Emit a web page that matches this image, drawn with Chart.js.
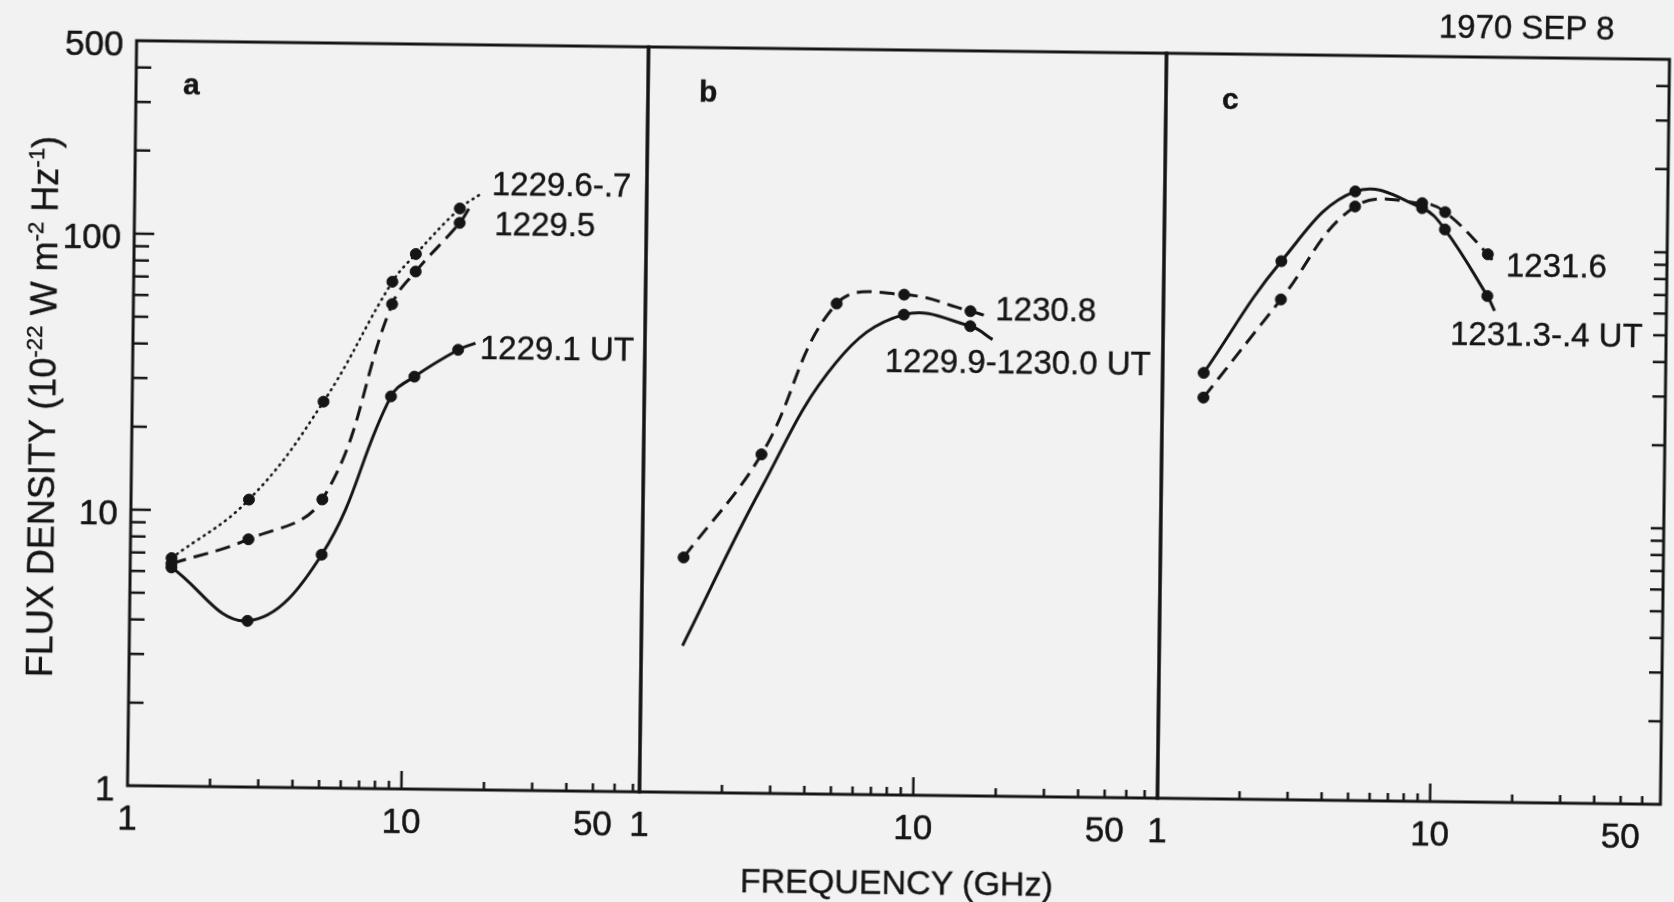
<!DOCTYPE html>
<html>
<head>
<meta charset="utf-8">
<title>1970 SEP 8 flux density spectra</title>
<script src="https://cdn.jsdelivr.net/npm/chart.js@4.4.0/dist/chart.umd.min.js"></script>
<style>
  html, body { margin: 0; padding: 0; background: #f2f2f2; }
  #page { position: relative; width: 1674px; height: 902px; overflow: hidden; background: #f2f2f2; }
  /* the scan is turned a little clockwise */
  #fig { position: absolute; left: 0; top: 0; width: 1674px; height: 902px;
         transform-origin: 898px 423px; transform: rotate(0.7deg); }
  #fig canvas { position: absolute; left: 0; top: 0; }
  .t { position: absolute; font-family: "Liberation Sans", Arial, Helvetica, sans-serif;
       font-size: 33px; line-height: 1; color: #151515; white-space: nowrap;
       -webkit-text-stroke: 0.4px #151515; }
  .p { font-weight: bold; font-size: 30px; }
  .yt { font-size: 36px; transform: translate(-50%, -50%) rotate(-90deg); }
  .yt sup { font-size: 0.62em; vertical-align: 0.62em; line-height: 0; }
  .xt { font-size: 34px; transform: translateX(-50%); }
</style>
</head>
<body>
<div id="page">
  <div id="fig">
    <canvas id="ca" width="1674" height="902"></canvas>
    <canvas id="cb" width="1674" height="902"></canvas>
    <canvas id="cc" width="1674" height="902"></canvas>

    <div class="t p" style="left:179px;top:78px">a</div>
    <div class="t p" style="left:695px;top:79px">b</div>
    <div class="t p" style="left:1218px;top:80px">c</div>

    <div class="t" style="left:489px;top:172px">1229.6-.7</div>
    <div class="t" style="left:492px;top:212px">1229.5</div>
    <div class="t" style="left:479px;top:336px">1229.1 UT</div>
    <div class="t" style="left:994px;top:291px">1230.8</div>
    <div class="t" style="left:884px;top:344px">1229.9-1230.0 UT</div>
    <div class="t" style="left:1504px;top:241px">1231.6</div>
    <div class="t" style="left:1449px;top:310px">1231.3-.4 UT</div>

    <div class="t" style="left:1434px;top:3px">1970 SEP 8</div>
    <div class="t xt" style="left:902px;top:865px">FREQUENCY (GHz)</div>
    <div class="t yt" style="left:43px;top:417px">FLUX DENSITY (10<sup>-22</sup> W m<sup>-2</sup> Hz<sup>-1</sup>)</div>
  </div>
</div>
<script>
// observing frequencies, GHz
const freqA = [1.415, 2.695, 4.995, 8.8, 10.69, 15.4];
const freqB = [1.415, 2.695, 4.995, 8.8, 15.4];
const freqC = [1.415, 2.695, 4.995, 8.8, 10.69, 15.4];

// panel a, flux density in 1e-22 W m-2 Hz-1
const fluxA_1229_1 = [6.2, 4.0, 7.0, 26.4, 31.2, 39.2];
const fluxA_1229_5 = [6.4, 7.9, 11.1, 57, 75, 113];
const fluxA_1229_67 = [6.7, 11.0, 25.1, 68.7, 86.8, 127.5];
// where the hand drawn curves stop [GHz, flux]
const endA_1229_1 = [17.8, 41.5];
const endA_1229_5 = [16.8, 130];
const endA_1229_67 = [18.5, 145];

// panel b
const fluxB_1230_8 = [7.1, 16.9, 59.9, 65.0, 57.0];
const endB_1230_8 = [17.7, 54.8];
const freqB_1229_9 = [8.8, 15.4];
const fluxB_1229_9 = [55.0, 50.3];
// lower part of that curve, drawn without dots
const traceFreqB_1229_9 = [1.415, 2.695, 4.995];
const traceFluxB_1229_9 = [3.4, 12.7, 36.6];
const endB_1229_9 = [18.6, 45.1];

// panel c
const fluxC_1231_6 = [28.4, 64.9, 142, 147, 136.7, 96.6];
const fluxC_1231_3 = [34.9, 89.3, 161, 141, 118.3, 68.2];
const endC_1231_6 = [16.5, 87.7];
const endC_1231_3 = [16.4, 60.3];

// axis ticks
const xMinor = [2, 3, 4, 5, 6, 7, 8, 9, 20, 30, 40, 50, 60, 70];
const xMajor = [10];
const xLabels = [1, 10, 50];
const yMinor = [2, 3, 4, 5, 6, 7, 8, 9, 20, 30, 40, 50, 60, 70, 80, 90, 200, 300, 400];
const yMajor = [10, 100];
const yLabels = [1, 10, 100, 500];

const W = 1674, H = 902;
const TOP = 50, BOTTOM = 795;
const edges = [132, 644, 1162, 1665];
const ink = '#151515';
const font = '35px "Liberation Sans", Arial, Helvetica, sans-serif';

const frame = {
  id: 'frame',
  afterDraw(chart, args, o) {
    const { ctx, chartArea: a } = chart;
    const x = chart.scales.x, y = chart.scales.y;
    ctx.save();
    ctx.strokeStyle = ink;
    ctx.lineWidth = 2.5;
    ctx.beginPath();
    const tick = (x1, y1, x2, y2) => { ctx.moveTo(x1, y1); ctx.lineTo(x2, y2); };
    xMinor.filter(v => v < x.max).forEach(v => {
      const p = x.getPixelForValue(v);
      tick(p, a.bottom, p, a.bottom - 8);
    });
    xMajor.forEach(v => {
      const p = x.getPixelForValue(v);
      tick(p, a.bottom, p, a.bottom - 18);
    });
    if (o.ySide === 'left') {
      yMinor.forEach(v => { const p = y.getPixelForValue(v); tick(a.left, p, a.left + 15, p); });
      yMajor.forEach(v => { const p = y.getPixelForValue(v); tick(a.left, p, a.left + 20, p); });
    } else if (o.ySide === 'right') {
      yMinor.concat(yMajor).forEach(v => { const p = y.getPixelForValue(v); tick(a.right, p, a.right - 13, p); });
    }
    ctx.stroke();

    ctx.lineWidth = 3;
    ctx.strokeRect(a.left, a.top, a.width, a.height);

    ctx.fillStyle = ink;
    ctx.strokeStyle = ink;
    ctx.lineWidth = 0.5;
    ctx.font = font;
    ctx.textBaseline = 'alphabetic';
    ctx.textAlign = 'center';
    const label = (s, px, py) => { ctx.fillText(s, px, py); ctx.strokeText(s, px, py); };
    xLabels.forEach(v => label(String(v), x.getPixelForValue(v), a.bottom + 44));
    if (o.yLabels) {
      ctx.textAlign = 'right';
      yLabels.forEach(v => label(String(v), a.left - 13, y.getPixelForValue(v) + 15));
    }
    ctx.restore();
  }
};

const solid = { borderColor: ink, borderWidth: 3, borderDash: [], tension: 0.4,
                pointBackgroundColor: ink, pointBorderColor: ink, pointBorderWidth: 1 };
const dashed = { ...solid, borderDash: [15, 8] };
const dotted = { ...solid, borderWidth: 2.6, borderDash: [1, 5.5], borderCapStyle: 'round' };

function curve(freq, flux, style, end, trace) {
  const before = trace ? trace[0].map((f, i) => ({ x: f, y: trace[1][i] })) : [];
  const meas = freq.map((f, i) => ({ x: f, y: flux[i] }));
  const after = end ? [{ x: end[0], y: end[1] }] : [];
  const data = before.concat(meas, after);
  const dots = data.map((_, i) => (i >= before.length && i < before.length + meas.length) ? 5.5 : 0);
  return { data, pointRadius: dots, ...style };
}

function panel(id, i, xmax, datasets, frameOpts) {
  return new Chart(document.getElementById(id), {
    type: 'line',
    data: { datasets },
    options: {
      responsive: false,
      animation: false,
      events: [],
      layout: { padding: { left: edges[i], right: W - edges[i + 1], top: TOP, bottom: H - BOTTOM } },
      scales: {
        x: { type: 'logarithmic', min: 1, max: xmax, display: false },
        y: { type: 'logarithmic', min: 1, max: 500, display: false }
      },
      plugins: { legend: { display: false }, tooltip: { enabled: false }, frame: frameOpts }
    },
    plugins: [frame]
  });
}

panel('ca', 0, 74, [
  curve(freqA, fluxA_1229_67, dotted, endA_1229_67),
  curve(freqA, fluxA_1229_5, dashed, endA_1229_5),
  curve(freqA, fluxA_1229_1, solid, endA_1229_1)
], { ySide: 'left', yLabels: true });

panel('cb', 1, 78, [
  curve(freqB, fluxB_1230_8, dashed, endB_1230_8),
  curve(freqB_1229_9, fluxB_1229_9, solid, endB_1229_9, [traceFreqB_1229_9, traceFluxB_1229_9])
], { ySide: null, yLabels: false });

panel('cc', 2, 70, [
  curve(freqC, fluxC_1231_6, dashed, endC_1231_6),
  curve(freqC, fluxC_1231_3, solid, endC_1231_3)
], { ySide: 'right', yLabels: false });
</script>
</body>
</html>
